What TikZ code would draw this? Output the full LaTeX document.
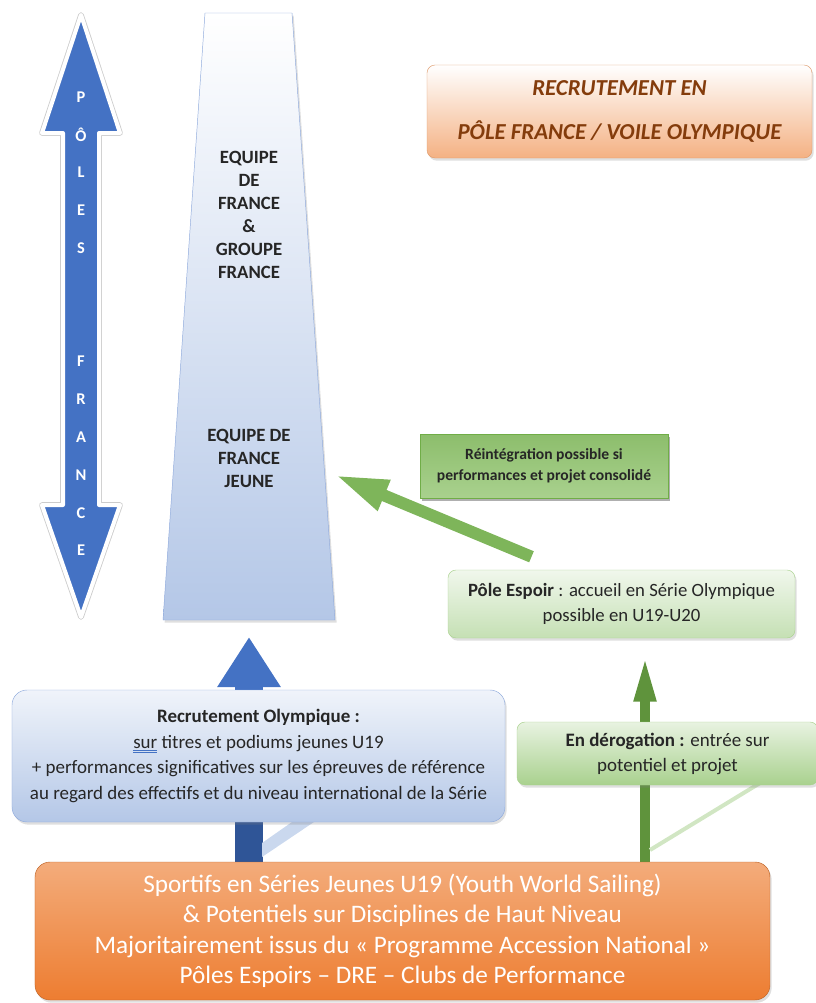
\documentclass[tikz,border=0pt]{standalone}
\usepackage{fontspec}
\setmainfont{Carlito}
\usetikzlibrary{arrows.meta,positioning,shadows,calc}
\definecolor{bleuoffice}{HTML}{4472C4}
\definecolor{bleufonce}{HTML}{2F5597}
\definecolor{bleupale}{HTML}{B4C7E7}
\definecolor{bleubord}{HTML}{8FAADC}
\definecolor{orangefede}{HTML}{ED7D31}
\definecolor{orangeclair}{HTML}{F4B183}
\definecolor{brique}{HTML}{843C0C}
\definecolor{vertfede}{HTML}{70AD47}
\definecolor{vertfonce}{HTML}{548235}
\definecolor{vertclair}{HTML}{A9D18E}
\definecolor{vertpale}{HTML}{C5E0B4}
\pgfdeclarelayer{fond}
\pgfsetlayers{fond,main}
% double soulignement de verification
\newcommand{\doublesous}[1]{\setbox0\hbox{#1}\leavevmode
  \rlap{\color{bleuoffice}\rule[-2.4pt]{\wd0}{0.45pt}}%
  \rlap{\color{bleuoffice}\rule[-3.6pt]{\wd0}{0.45pt}}\box0\relax}

\begin{document}
\begin{tikzpicture}[x=0.3mm, y=-0.3mm,
    ombre/.style={drop shadow={shadow xshift=0.5mm, shadow yshift=-0.8mm, opacity=0.25}},
    boite/.style={align=center, inner sep=0pt, ombre},
    lettre/.style={text=white, font=\bfseries\fontsize{14}{14}\selectfont},
    colonne/.style={align=center, text=black!85, font=\bfseries\fontsize{16}{19.6}\selectfont},
    fleche bleue/.style={bleuoffice, line width=8.4mm, -{Triangle[length=15mm, width=18mm]}},
    fleche verte/.style={vertfede!85!black, line width=3mm, -{Triangle[length=14mm, width=6mm]}},
    fleche diag/.style={vertfede!90, line width=3.6mm, -{Triangle[length=16mm, width=9mm]}}]
  \useasboundingbox (0,0) rectangle (815,1003);

  % fleche double Poles France
  \draw[white, line width=1.2mm, line join=round, fill=bleuoffice,
        preaction={draw=black!20, line width=1.7mm, line join=round},
        drop shadow={shadow xshift=0.3mm, shadow yshift=-0.4mm, opacity=0.3}]
    (81,15) -- (120,133) -- (99,133) -- (99,505) -- (120,505) -- (81,617)
    -- (42,505) -- (63,505) -- (63,133) -- (42,133) -- cycle;
  \foreach \lettre [count=\i from 0] in {P,Ô,L,E,S,,,F,R,A,N,C,E}
    \node[lettre] (l\i) at (81,{97+37.8*\i}) {\lettre};

  % colonne
  \path[top color=white, bottom color=bleupale, draw=bleubord, ombre]
    (205,13) -- (292,13) -- (335,620) -- (163,620) -- cycle;
  \node[colonne] (elite) at (249,215) {EQUIPE\\DE\\FRANCE\\\&\\GROUPE\\FRANCE};
  \node[colonne] (jeune) at (249,458) {EQUIPE DE\\FRANCE\\JEUNE};
  \coordinate (pied) at (249,637);
  \coordinate (flanc) at (335,475);

  % boites
  \node[boite, rounded corners=2.4mm, minimum width=115.5mm, minimum height=27.9mm,
        top color=white, bottom color=orangeclair, draw=orangeclair!80!brique,
        text=brique, font=\bfseries\itshape\fontsize{19.5}{37.4}\selectfont]
    (titre) at (619.5,111.5) {RECRUTEMENT EN\\PÔLE FRANCE / VOILE OLYMPIQUE};
  \node[boite, minimum width=74.4mm, minimum height=19.2mm,
        top color=vertfede!80, bottom color=vertclair, draw=vertfede,
        drop shadow={shadow xshift=0.6mm, shadow yshift=-0.9mm, opacity=0.5},
        font=\bfseries\fontsize{13.3}{18}\selectfont, text=black!85]
    (reint) at (544,466) {Réintégration possible si\\performances et projet consolidé};
  \node[boite, rounded corners=2.4mm, minimum width=104.1mm, minimum height=20.4mm,
        top color=vertpale!25, bottom color=vertpale, draw=vertclair,
        font=\fontsize{16}{21.3}\selectfont, text=black!85]
    (espoir) at (621.5,604) {\textbf{Pôle Espoir} : accueil en Série Olympique\\possible en U19-U20};
  \coordinate (espied) at (645,655);
  \node[boite, rounded corners=4.5mm, minimum width=147.9mm, minimum height=39.6mm,
        top color=bleupale!20, bottom color=bleupale, draw=bleubord,
        font=\fontsize{16.2}{22}\selectfont, text=black!85]
    (recrut) at (258.5,756) {\textbf{Recrutement Olympique :}\\
      \doublesous{sur} titres et podiums jeunes U19\\
      + performances significatives sur les épreuves de référence\\
      au regard des effectifs et du niveau international de la Série};
  \node[boite, rounded corners=2.4mm, minimum width=90.3mm, minimum height=18.9mm,
        top color=vertpale!40, bottom color=vertclair, draw=vertclair,
        font=\fontsize{16.2}{21.3}\selectfont, text=black!85]
    (derog) at (667.5,753.5) {\textbf{En dérogation :} entrée sur\\potentiel et projet};
  \node[boite, rounded corners=4.5mm, minimum width=220.5mm, minimum height=41.4mm,
        top color=orangeclair!90!orangefede, bottom color=orangefede, draw=orangefede!80!black,
        text=white, font=\fontsize{21.5}{26}\selectfont]
    (base) at (402.5,931) {Sportifs en Séries Jeunes U19 (Youth World Sailing)\\
      \& Potentiels sur Disciplines de Haut Niveau\\
      Majoritairement issus du « Programme Accession National »\\
      Pôles Espoirs – DRE – Clubs de Performance};

  % fleches
  \begin{pgfonlayer}{fond}
    \draw[fleche bleue] (base.north -| pied) -- (pied);
    \draw[bleufonce, line width=8.4mm] (base.north -| pied) -- (recrut.south -| pied);
    \fill[bleupale!70] (262,857) -- (262,843) -- (292,822) -- (314,822) -- cycle;
    \draw[fleche verte] (base.north -| espied) -- (espied);
    \draw[vertpale!80, line width=1.2mm] (650,850) -- (760,783);
  \end{pgfonlayer}
  \draw[fleche diag] ([xshift=-27mm, yshift=3.9mm]espoir.north) -- (flanc);
\end{tikzpicture}
\end{document}
